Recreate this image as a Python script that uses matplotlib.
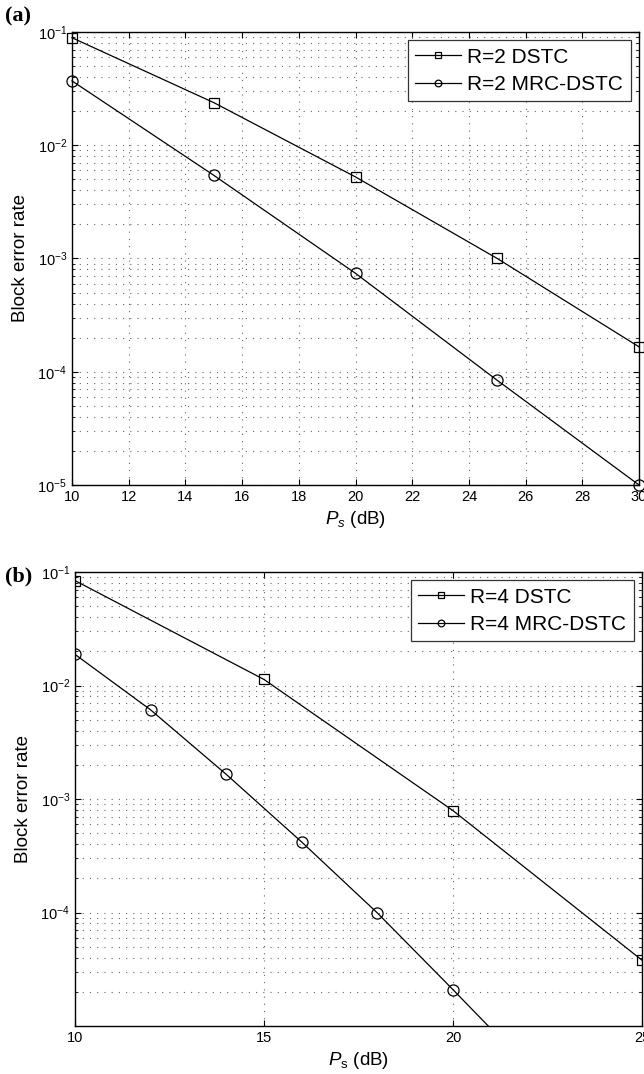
import matplotlib
matplotlib.use("Agg")
import matplotlib.pyplot as plt
from matplotlib.ticker import LogLocator, NullFormatter, FixedLocator, FuncFormatter
import math

plt.rcParams['font.family'] = ['Liberation Sans', 'DejaVu Sans']
plt.rcParams['mathtext.fontset'] = 'custom'
plt.rcParams['mathtext.rm'] = 'Liberation Sans'
plt.rcParams['mathtext.it'] = 'Liberation Sans:italic'
plt.rcParams['mathtext.bf'] = 'Liberation Sans:bold'

# Panel (a) data
ps_a = [10, 15, 20, 25, 30]
dstc_r2 = [0.089, 0.0238, 0.00525, 1.0e-3, 1.66e-4]
mrc_r2 = [0.037, 0.00543, 7.4e-4, 8.4e-5, 1.0e-5]

# Panel (b) data
ps_b_dstc = [10, 15, 20, 25]
dstc_r4 = [0.084, 0.0113, 7.9e-4, 3.8e-5]
ps_b_mrc = [10, 12, 14, 16, 18, 20, 22]
mrc_r4 = [0.0188, 6.1e-3, 1.65e-3, 4.17e-4, 9.9e-5, 2.09e-5, 4.3e-6]

xticks_a = [10, 12, 14, 16, 18, 20, 22, 24, 26, 28, 30]
xticks_b = [10, 15, 20, 25]

fig = plt.figure(figsize=(6.44, 10.74), dpi=100)
W, H = 644, 1074

def make_ax(l, r, t, b):
    return fig.add_axes([l / W, 1 - b / H, (r - l) / W, (b - t) / H])

ax_a = make_ax(72, 639, 32, 485)
ax_b = make_ax(75, 642, 572, 1026)

def exp_fmt(v, pos):
    e = int(round(math.log10(v)))
    return r'$\mathrm{10}^{\mathrm{' + ('-' if e < 0 else '') + str(abs(e)) + '}}$'

def style(ax, xticks, xlim, yticks):
    ax.set_yscale('log')
    ax.set_xlim(*xlim)
    ax.set_ylim(1e-5, 1e-1)
    ax.set_xticks(xticks)
    ax.yaxis.set_major_locator(FixedLocator(yticks))
    ax.yaxis.set_major_formatter(FuncFormatter(exp_fmt))
    ax.yaxis.set_minor_locator(LogLocator(base=10, subs=[2, 3, 4, 5, 6, 7, 8, 9], numticks=20))
    ax.yaxis.set_minor_formatter(NullFormatter())
    ax.tick_params(which='both', direction='in', top=True, right=True, labelsize=10.5, colors='black')
    ax.tick_params(which='major', length=4, width=0.8)
    ax.tick_params(which='minor', length=2, width=0.6)
    ax.grid(True, which='major', axis='both', linestyle=(0, (1, 5.5)), color='#666666', linewidth=0.8)
    ax.grid(True, which='minor', axis='y', linestyle=(0, (1, 5.5)), color='#666666', linewidth=0.8)
    for s in ax.spines.values():
        s.set_linewidth(1.0)
    ax.set_ylabel('Block error rate', fontsize=13.5, labelpad=6)

def add_legend(ax):
    leg = ax.legend(loc='upper right', fontsize=15, markerscale=0.6, handlelength=2.2, borderaxespad=0.4,
                    fancybox=False, edgecolor='#333333', framealpha=1, handletextpad=0.3, labelspacing=0.4,
                    borderpad=0.35)
    leg.get_frame().set_linewidth(0.9)

ax_a.plot(ps_a, dstc_r2, '-', color='black', lw=0.9, marker='s', ms=7, mfc='none', mec='black', mew=0.9,
          label='R=2 DSTC', clip_on=False, zorder=3)
ax_a.plot(ps_a, mrc_r2, '-', color='black', lw=0.9, marker='o', ms=8, mfc='none', mec='black', mew=0.9,
          label='R=2 MRC-DSTC', clip_on=False, zorder=3)
style(ax_a, xticks_a, (10, 30), [1e-5, 1e-4, 1e-3, 1e-2, 1e-1])
ax_a.set_xlabel(r'$P_s$ (dB)', fontsize=13.5, labelpad=4)
add_legend(ax_a)

ax_b.plot(ps_b_dstc, dstc_r4, '-', color='black', lw=0.9, marker='s', ms=7, mfc='none', mec='black', mew=0.9,
          label='R=4 DSTC', zorder=3)
ax_b.plot(ps_b_mrc, mrc_r4, '-', color='black', lw=0.9, marker='o', ms=8, mfc='none', mec='black', mew=0.9,
          label='R=4 MRC-DSTC', zorder=3)
style(ax_b, xticks_b, (10, 25), [1e-4, 1e-3, 1e-2, 1e-1])
ax_b.set_xlabel(r'$P_{\mathrm{s}}$ (dB)', fontsize=13.5, labelpad=4)
add_legend(ax_b)

fig.text(5 / W, 1 - 16 / H, '(a)', fontsize=16, fontweight='bold', family='Liberation Serif', va='center', ha='left')
fig.text(5 / W, 1 - 576 / H, '(b)', fontsize=16, fontweight='bold', family='Liberation Serif', va='center', ha='left')

fig.savefig('out.png', dpi=100)
